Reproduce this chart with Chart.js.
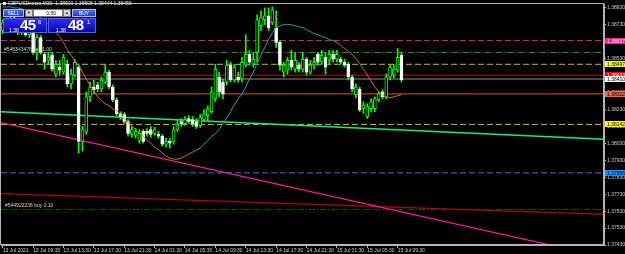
<!DOCTYPE html>
<html>
<head>
<meta charset="utf-8">
<script src="https://cdn.jsdelivr.net/npm/chart.js@4.4.1/dist/chart.umd.min.js"></script>
<style>
html, body { margin: 0; padding: 0; background: #000; }
#wrap { position: relative; width: 625px; height: 254px; overflow: hidden; }
#chart { position: absolute; left: 0; top: 0; }
#oc { position: absolute; left: 3px; top: 9px; width: 93px; height: 24px; font-family: "Liberation Sans", Arial, sans-serif; }
.b { position: absolute; top: 0; height: 8px; box-sizing: border-box; font-size: 5px; line-height: 6px; text-align: center; }
#sell, #buy { background: linear-gradient(#5470ee, #1f3cc4); border: 1px solid #a8b8ff; color: #fff; }
#sell { left: 0; width: 21px; }
#buy { left: 69px; width: 24px; }
#dn, #up { width: 8px; background: #d4d4d4; border: 1px solid #777; color: #222; font-size: 4px; }
#dn { left: 22px; }
#up { left: 60px; }
#lot { left: 30px; width: 30px; background: #fff; color: #000; border: 1px solid #777; text-align: right; padding-right: 6px; }
.p { position: absolute; top: 9px; height: 15px; background: linear-gradient(#2c2cf2, #0808aa); color: #fff; border: 1px solid #5a5aff; box-sizing: border-box; }
#pl { left: 0; width: 44px; }
#pr { left: 45px; width: 48px; }
.sm { position: absolute; font-size: 5px; top: 8px; }
.bg { position: absolute; font-size: 15px; font-weight: bold; top: -3px; letter-spacing: -0.5px; }
.sup { position: absolute; font-size: 6px; top: 0px; }
</style>
</head>
<body>
<div id="wrap">
<canvas id="chart" width="625" height="254"></canvas>
<div id="oc">
  <div class="b" id="sell">SELL</div>
  <div class="b" id="dn">&#9660;</div>
  <div class="b" id="lot">0.50</div>
  <div class="b" id="up">&#9650;</div>
  <div class="b" id="buy">BUY</div>
  <div class="p" id="pl"><span class="sm" style="left:5px">1.38</span><span class="bg" style="left:16px">45</span><span class="sup" style="left:34px">6</span></div>
  <div class="p" id="pr"><span class="sm" style="left:7px">1.38</span><span class="bg" style="left:19px">48</span><span class="sup" style="left:38px">1</span></div>
</div>
</div>
<script>
// GBPUSD M30, one candle per bar index (bar 0 = 13 Jul 05:30)
var opens = [1.38696,1.38754,1.38713,1.38772,1.38725,1.38684,1.38731,1.38672,1.38702,1.38567,
  1.38655,1.38556,1.38521,1.38550,1.38439,1.38480,1.38451,1.38497,1.38381,1.38433,
  1.38480,1.38042,1.38101,1.38305,1.38363,1.38375,1.38351,1.38392,1.38451,1.38363,
  1.38287,1.38206,1.38200,1.38159,1.38083,1.38077,1.38048,1.38101,1.38101,1.38112,
  1.38089,1.38083,1.38072,1.38025,1.38042,1.38042,1.38112,1.38159,1.38147,1.38177,
  1.38171,1.38159,1.38136,1.38171,1.38194,1.38217,1.38293,1.38422,1.38392,1.38392,
  1.38492,1.38404,1.38422,1.38410,1.38492,1.38556,1.38497,1.38567,1.38725,1.38760,
  1.38783,1.38742,1.38713,1.38626,1.38451,1.38462,1.38521,1.38468,1.38492,1.38468,
  1.38527,1.38451,1.38492,1.38556,1.38509,1.38538,1.38521,1.38556,1.38527,1.38527,
  1.38509,1.38497,1.38422,1.38317,1.38351,1.38235,1.38188,1.38235,1.38235,1.38287,
  1.38334,1.38305,1.38422,1.38433,1.38462,1.38550];
var highs = [1.38760,1.38772,1.38789,1.38783,1.38742,1.38754,1.38742,1.38719,1.38713,1.38672,
  1.38667,1.38567,1.38567,1.38567,1.38521,1.38521,1.38556,1.38521,1.38468,1.38527,
  1.38497,1.38130,1.38334,1.38392,1.38404,1.38392,1.38422,1.38497,1.38462,1.38375,
  1.38299,1.38217,1.38212,1.38171,1.38130,1.38118,1.38112,1.38112,1.38118,1.38130,
  1.38124,1.38101,1.38083,1.38060,1.38060,1.38130,1.38171,1.38177,1.38188,1.38194,
  1.38188,1.38177,1.38200,1.38229,1.38252,1.38363,1.38497,1.38451,1.38410,1.38521,
  1.38509,1.38497,1.38451,1.38538,1.38672,1.38579,1.38567,1.38789,1.38812,1.38830,
  1.38830,1.38836,1.38812,1.38637,1.38509,1.38538,1.38579,1.38567,1.38509,1.38567,
  1.38538,1.38521,1.38538,1.38567,1.38579,1.38567,1.38579,1.38579,1.38579,1.38538,
  1.38527,1.38509,1.38433,1.38381,1.38363,1.38276,1.38264,1.38293,1.38305,1.38334,
  1.38346,1.38439,1.38497,1.38497,1.38591,1.38567];
var lows = [1.38678,1.38696,1.38702,1.38702,1.38672,1.38672,1.38661,1.38655,1.38556,1.38521,
  1.38556,1.38468,1.38497,1.38457,1.38422,1.38433,1.38439,1.38363,1.38351,1.38422,
  1.37972,1.37984,1.38083,1.38276,1.38322,1.38334,1.38334,1.38381,1.38351,1.38276,
  1.38194,1.38171,1.38147,1.38072,1.38066,1.38060,1.38031,1.38031,1.38072,1.38066,
  1.38077,1.38060,1.38013,1.38007,1.38002,1.38025,1.38101,1.38130,1.38136,1.38147,
  1.38130,1.38118,1.38124,1.38159,1.38159,1.38206,1.38276,1.38305,1.38293,1.38375,
  1.38392,1.38392,1.38392,1.38392,1.38480,1.38492,1.38480,1.38509,1.38696,1.38731,
  1.38696,1.38731,1.38597,1.38462,1.38422,1.38439,1.38462,1.38451,1.38451,1.38451,
  1.38433,1.38439,1.38468,1.38492,1.38497,1.38439,1.38497,1.38509,1.38509,1.38497,
  1.38480,1.38404,1.38334,1.38299,1.38217,1.38206,1.38177,1.38217,1.38217,1.38276,
  1.38293,1.38293,1.38404,1.38416,1.38451,1.38392];
var closes = [1.38742,1.38707,1.38772,1.38713,1.38684,1.38731,1.38672,1.38702,1.38567,1.38655,
  1.38567,1.38509,1.38538,1.38468,1.38497,1.38462,1.38538,1.38381,1.38439,1.38509,
  1.38042,1.38112,1.38305,1.38363,1.38346,1.38351,1.38404,1.38451,1.38363,1.38287,
  1.38206,1.38188,1.38159,1.38089,1.38112,1.38101,1.38089,1.38042,1.38089,1.38083,
  1.38112,1.38072,1.38025,1.38042,1.38031,1.38112,1.38142,1.38147,1.38171,1.38159,
  1.38147,1.38130,1.38182,1.38206,1.38235,1.38334,1.38468,1.38334,1.38322,1.38492,
  1.38404,1.38480,1.38404,1.38509,1.38556,1.38509,1.38527,1.38760,1.38772,1.38783,
  1.38713,1.38818,1.38626,1.38492,1.38492,1.38521,1.38480,1.38521,1.38468,1.38527,
  1.38451,1.38492,1.38509,1.38509,1.38550,1.38480,1.38556,1.38527,1.38556,1.38509,
  1.38492,1.38422,1.38351,1.38363,1.38229,1.38258,1.38247,1.38276,1.38293,1.38322,
  1.38305,1.38422,1.38480,1.38468,1.38538,1.38404];
// moving average line as it is drawn on the chart
var maValues = [1.38836,1.38836,1.38836,1.38830,1.38830,1.38824,1.38818,1.38812,1.38801,1.38789,
  1.38772,1.38754,1.38731,1.38707,1.38684,1.38661,1.38626,1.38585,1.38550,1.38515,
  1.38492,1.38451,1.38410,1.38375,1.38340,1.38305,1.38282,1.38264,1.38252,1.38235,
  1.38223,1.38200,1.38177,1.38153,1.38130,1.38112,1.38089,1.38072,1.38048,1.38031,
  1.38007,1.37996,1.37972,1.37955,1.37943,1.37937,1.37937,1.37943,1.37955,1.37967,
  1.37978,1.37990,1.38002,1.38025,1.38048,1.38072,1.38089,1.38112,1.38147,1.38182,
  1.38217,1.38258,1.38293,1.38322,1.38363,1.38410,1.38451,1.38503,1.38550,1.38597,
  1.38643,1.38684,1.38713,1.38725,1.38731,1.38731,1.38731,1.38725,1.38719,1.38713,
  1.38702,1.38690,1.38678,1.38672,1.38661,1.38655,1.38643,1.38637,1.38626,1.38608,
  1.38591,1.38573,1.38556,1.38532,1.38503,1.38468,1.38433,1.38398,1.38363,1.38334,
  1.38317,1.38299,1.38299,1.38305,1.38311,1.38317];

var xTickBars = [0, 8, 16, 24, 32, 40, 48, 56, 64, 72, 80, 88, 96, 104];
var xTickLabels = ['13 Jul 2021', '13 Jul 09:30', '13 Jul 13:30', '13 Jul 17:30', '13 Jul 21:30',
  '14 Jul 01:30', '14 Jul 05:30', '14 Jul 09:30', '14 Jul 13:30', '14 Jul 17:30',
  '14 Jul 21:30', '15 Jul 01:30', '15 Jul 05:30', '15 Jul 09:30'];
var yTickValues = [1.37430, 1.37530, 1.37630, 1.37730, 1.37830, 1.37930, 1.38030, 1.38130,
  1.38230, 1.38330, 1.38430, 1.38530, 1.38630, 1.38730, 1.38830];

// horizontal price lines (orders, levels, bid)
var levelValues = [1.38637, 1.38567, 1.38497, 1.38433, 1.38410, 1.38322, 1.38142, 1.37856, 1.37640];
// trend lines, price at left and right edge of the window
var trendGreen = [1.38217, 1.38054];
var trendPink = [1.38153, 1.37359];
var trendRed = [1.37733, 1.37611];

var X_MIN = -0.45, X_MAX = 158.34;
var Y_MIN = 1.37430, Y_MAX = 1.38853;

var levelStyles = [
  { color: '#e8207f', dash: [6, 3], tag: '#ff1a8c', tagText: '#fff' },
  { color: '#1fa01f', dash: [6, 2, 1, 2], tag: null },
  { color: '#c8c800', dash: [6, 3], tag: '#ffff00', tagText: '#000' },
  { color: '#c01010', dash: [], tag: '#ff0000', tagText: '#fff' },
  { color: '#8a8a8a', dash: [], tag: '#ffffff', tagText: '#000' },
  { color: '#e0503a', dash: [], tag: '#f06848', tagText: '#000' },
  { color: '#c8c800', dash: [6, 3], tag: '#ffff00', tagText: '#000' },
  { color: '#1e7fe0', dash: [6, 3], tag: '#2090ff', tagText: '#000' },
  { color: '#0b5a0b', dash: [6, 2, 1, 2], tag: null }
];

var candleWicks = opens.map(function(o, i) { return { x: i, y: [lows[i], highs[i]] }; });
var candleBodies = opens.map(function(o, i) { return { x: i, y: [o, closes[i]] }; });
var maPoints = maValues.map(function(v, i) { return { x: i, y: v }; });

function isBull(i) { return closes[i] >= opens[i]; }

var datasets = [
  { type: 'bar', data: candleWicks, grouped: false, barThickness: 1, backgroundColor: '#00ff00', borderWidth: 0, order: 3 },
  { type: 'bar', data: candleBodies, grouped: false, barThickness: 3,
    backgroundColor: function(c) { return isBull(c.dataIndex) ? '#000000' : '#ffffff'; },
    borderColor: function(c) { return isBull(c.dataIndex) ? '#00ff00' : '#ffffff'; },
    borderWidth: 1, borderSkipped: false, order: 2 },
  { type: 'line', data: maPoints, borderWidth: 1, pointRadius: 0, order: 1,
    segment: { borderColor: function(c) {
      var i = c.p0DataIndex;
      return (i < 13 || (i >= 52 && i < 87)) ? '#1fa8a0' : '#c87a1a';
    } } },
  { type: 'line', data: [{ x: X_MIN, y: trendGreen[0] }, { x: X_MAX, y: trendGreen[1] }], borderColor: '#10f080', borderWidth: 1.5, pointRadius: 0, order: 4 },
  { type: 'line', data: [{ x: X_MIN, y: trendPink[0] }, { x: X_MAX, y: trendPink[1] }], borderColor: '#ff1aa0', borderWidth: 1.2, pointRadius: 0, order: 4 },
  { type: 'line', data: [{ x: X_MIN, y: trendRed[0] }, { x: X_MAX, y: trendRed[1] }], borderColor: '#b80000', borderWidth: 1.2, pointRadius: 0, order: 4 }
];
levelValues.forEach(function(v, k) {
  datasets.push({ type: 'line', data: [{ x: X_MIN, y: v }, { x: X_MAX, y: v }],
    borderColor: levelStyles[k].color, borderDash: levelStyles[k].dash, borderWidth: 1, pointRadius: 0, order: 5 });
});

var extras = {
  id: 'extras',
  afterDraw: function(chart) {
    var ctx = chart.ctx, a = chart.chartArea, ys = chart.scales.y;
    ctx.save();
    ctx.strokeStyle = '#b4b4b4';
    ctx.lineWidth = 1;
    ctx.strokeRect(a.left - 0.5, a.top - 0.5, a.right - a.left, a.bottom - a.top);
    ctx.font = '5px "Liberation Sans", Arial, sans-serif';
    ctx.textBaseline = 'middle';
    levelValues.forEach(function(v, k) {
      var s = levelStyles[k];
      if (!s.tag) return;
      var py = Math.round(ys.getPixelForValue(v));
      ctx.fillStyle = s.tag;
      ctx.fillRect(a.right + 1, py - 3, 20, 6);
      ctx.fillStyle = s.tagText;
      ctx.fillText(v.toFixed(5), a.right + 3, py + 0.5);
    });
    ctx.fillStyle = '#d8d8d8';
    ctx.textBaseline = 'bottom';
    ctx.fillText('#546343476 sell 1.00', a.left + 3, ys.getPixelForValue(levelValues[1]) - 0.5);
    ctx.fillText('#544922236 buy 0.10', a.left + 4, ys.getPixelForValue(levelValues[8]) - 1.5);
    ctx.textBaseline = 'top';
    ctx.fillStyle = '#e8e8e8';
    ctx.fillRect(3, 2, 3, 3);
    ctx.fillText('GBPUSDmicro,M30  1.38600 1.38608 1.38444 1.38456', 8, 1);
    ctx.restore();
  }
};

var tickFont = { size: 5, family: '"Liberation Sans", Arial, sans-serif' };

new Chart(document.getElementById('chart'), {
  data: { datasets: datasets },
  options: {
    responsive: false,
    animation: false,
    layout: { padding: { top: 1, left: 1, right: 0, bottom: 0 } },
    plugins: { legend: { display: false }, tooltip: { enabled: false } },
    scales: {
      x: {
        type: 'linear', min: X_MIN, max: X_MAX, position: 'bottom', offset: false,
        afterBuildTicks: function(s) { s.ticks = xTickBars.map(function(v) { return { value: v }; }); },
        afterFit: function(s) { s.height = 9; },
        ticks: { autoSkip: false, maxRotation: 0, align: 'start', padding: 0, color: '#d0d0d0', font: tickFont,
          callback: function(v, i) { return xTickLabels[i]; } },
        grid: { drawOnChartArea: false, drawTicks: true, tickLength: 3, color: '#b4b4b4', offset: false },
        border: { color: '#b4b4b4' }
      },
      y: {
        type: 'linear', position: 'right', min: Y_MIN, max: Y_MAX,
        afterBuildTicks: function(s) { s.ticks = yTickValues.map(function(v) { return { value: v }; }); },
        afterFit: function(s) { s.width = 21; },
        ticks: { autoSkip: false, padding: 1, color: '#d0d0d0', font: tickFont,
          callback: function(v) { return v.toFixed(5); } },
        grid: { drawOnChartArea: false, drawTicks: true, tickLength: 2, color: '#b4b4b4' },
        border: { color: '#b4b4b4' }
      }
    }
  },
  plugins: [extras]
});
</script>
</body>
</html>
